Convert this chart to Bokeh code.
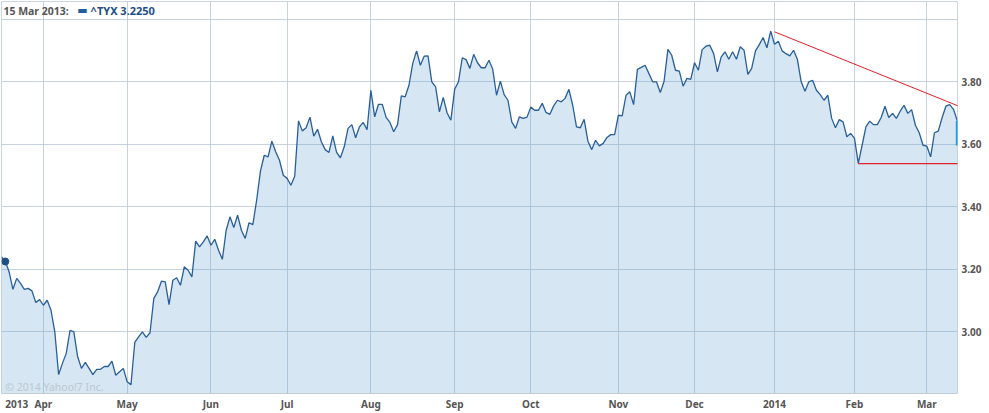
import numpy as np
from bokeh.plotting import figure
from bokeh.models import FixedTicker, Label, Range1d
from bokeh.embed import file_html
from bokeh.resources import INLINE

# ---- data -------------------------------------------------------------
holidays = ["2013-03-29", "2013-05-27", "2013-07-04", "2013-09-02", "2013-11-28",
            "2013-12-25", "2014-01-01", "2014-01-20", "2014-02-17"]
first_date = "2013-03-14"
yields = [
    3.240, 3.225, 3.192, 3.136, 3.171, 3.155, 3.136, 3.139, 3.131, 3.094,
    3.103, 3.085, 3.101, 3.069, 3.000, 2.863, 2.899, 2.931, 3.005, 3.000,
    2.920, 2.883, 2.902, 2.883, 2.863, 2.880, 2.880, 2.889, 2.889, 2.906,
    2.861, 2.872, 2.883, 2.840, 2.831, 2.966, 2.984, 3.000, 2.982, 2.997,
    3.107, 3.128, 3.162, 3.160, 3.087, 3.165, 3.173, 3.149, 3.208, 3.197,
    3.176, 3.290, 3.272, 3.288, 3.307, 3.277, 3.296, 3.261, 3.232, 3.325,
    3.368, 3.334, 3.373, 3.325, 3.299, 3.349, 3.343, 3.421, 3.514, 3.565,
    3.560, 3.610, 3.576, 3.549, 3.501, 3.491, 3.469, 3.498, 3.675, 3.643,
    3.653, 3.687, 3.626, 3.648, 3.608, 3.583, 3.574, 3.627, 3.574, 3.557,
    3.592, 3.651, 3.663, 3.621, 3.656, 3.670, 3.647, 3.773, 3.688, 3.728,
    3.728, 3.686, 3.670, 3.640, 3.663, 3.755, 3.752, 3.789, 3.859, 3.899,
    3.853, 3.882, 3.883, 3.800, 3.784, 3.704, 3.750, 3.701, 3.677, 3.776,
    3.800, 3.877, 3.871, 3.843, 3.888, 3.861, 3.845, 3.845, 3.869, 3.840,
    3.757, 3.802, 3.759, 3.741, 3.672, 3.651, 3.688, 3.683, 3.687, 3.719,
    3.709, 3.709, 3.731, 3.702, 3.696, 3.723, 3.741, 3.736, 3.747, 3.776,
    3.725, 3.656, 3.653, 3.680, 3.610, 3.583, 3.613, 3.595, 3.603, 3.622,
    3.631, 3.631, 3.693, 3.691, 3.757, 3.768, 3.727, 3.840, 3.846, 3.853,
    3.827, 3.800, 3.800, 3.766, 3.802, 3.904, 3.885, 3.837, 3.834, 3.786,
    3.811, 3.808, 3.861, 3.837, 3.903, 3.914, 3.917, 3.891, 3.832, 3.880,
    3.896, 3.872, 3.896, 3.872, 3.912, 3.901, 3.824, 3.843, 3.899, 3.919,
    3.942, 3.909, 3.962, 3.920, 3.930, 3.899, 3.890, 3.883, 3.901, 3.872,
    3.800, 3.770, 3.800, 3.805, 3.773, 3.759, 3.741, 3.757, 3.683, 3.653,
    3.679, 3.672, 3.624, 3.635, 3.619, 3.539, 3.597, 3.656, 3.674, 3.663,
    3.663, 3.686, 3.722, 3.686, 3.699, 3.683, 3.706, 3.725, 3.699, 3.711,
    3.661, 3.637, 3.597, 3.594, 3.560, 3.637, 3.642, 3.685, 3.722, 3.727,
    3.712, 3.675,
]
hover_date = "2013-03-15"
hover_label = "15 Mar 2013:"
hover_value = 3.2250
symbol = "^TYX"

month_starts = ["2013-03-20", "2013-04-01", "2013-05-01", "2013-06-01", "2013-07-01",
                "2013-08-01", "2013-09-01", "2013-10-01", "2013-11-01", "2013-12-01",
                "2014-01-01", "2014-02-01", "2014-03-01"]
month_labels = ["2013", "Apr", "May", "Jun", "Jul", "Aug", "Sep", "Oct", "Nov", "Dec",
                "2014", "Feb", "Mar"]
y_label_ticks = [3.0, 3.2, 3.4, 3.6, 3.8]
y_grid_ticks = [3.0, 3.2, 3.4, 3.6, 3.8, 4.0]

trend_dates = ["2014-01-02", "2014-03-14"]
trend_values = [3.960, 3.719]
support_dates = ["2014-02-04", "2014-03-14"]
support_values = [3.538, 3.538]
last_change = [3.596, 3.675]

# ---- trading-day positions -------------------------------------------
dates = np.busday_offset(first_date, np.arange(len(yields)), roll="forward", holidays=holidays)
x = np.busday_count(hover_date, dates, holidays=holidays)
tick_days = np.busday_offset(np.array(month_starts, dtype="datetime64[D]"), 0,
                             roll="forward", holidays=holidays)
tick_x = [int(v) for v in np.busday_count(hover_date, tick_days, holidays=holidays)]
grid_x = tick_x[1:]
trend_x = np.busday_count(hover_date, np.array(trend_dates, dtype="datetime64[D]"), holidays=holidays)
support_x = np.busday_count(hover_date, np.array(support_dates, dtype="datetime64[D]"), holidays=holidays)
hover_x = 0
last_x = int(x[-1])

# ---- figure ------------------------------------------------------------
FONT = "Noto Sans"
p = figure(frame_width=956, frame_height=392, output_backend="svg", toolbar_location=None,
           y_axis_location="right",
           x_range=Range1d(-1.0, 250.05), y_range=Range1d(2.8026, 4.057),
           min_border_left=1, min_border_top=1, min_border_right=0, min_border_bottom=0,
           background_fill_color="white", border_fill_color="white",
           outline_line_color="#cdd6df")

p.varea(x=x, y1=0, y2=yields, fill_color="#5b9bd0", fill_alpha=0.25)
p.line(x=x, y=yields, line_color="#285f98", line_width=1.3)
p.line(x=trend_x, y=trend_values, line_color="#e3202b", line_width=1)
p.line(x=support_x, y=support_values, line_color="#e3202b", line_width=1.2)
p.segment(x0=[last_x], y0=[last_change[0]], x1=[last_x], y1=[last_change[1]],
          line_color="#1b9be0", line_width=3)
p.scatter(x=[hover_x], y=[hover_value], size=7, color="#1d4f86")

# axes
p.xaxis.ticker = FixedTicker(ticks=tick_x)
p.xaxis.major_label_overrides = {t: lab for t, lab in zip(tick_x, month_labels)}
p.yaxis.ticker = FixedTicker(ticks=y_label_ticks)
p.yaxis.major_label_overrides = {t: f"{t:.2f}" for t in y_label_ticks}
for ax in (p.xaxis[0], p.yaxis[0]):
    ax.axis_line_color = None
    ax.major_tick_line_color = None
    ax.minor_tick_line_color = None
    ax.major_tick_out = 0
    ax.major_tick_in = 0
    ax.minor_tick_out = 0
    ax.minor_tick_in = 0
    ax.major_label_text_font = FONT
    ax.major_label_text_font_style = "bold"
    ax.major_label_text_font_size = "10px"
    ax.major_label_text_color = "#555555"
p.xaxis.major_label_standoff = 3
p.yaxis.major_label_standoff = 4

p.xgrid.ticker = FixedTicker(ticks=grid_x)
p.ygrid.ticker = FixedTicker(ticks=y_grid_ticks)
for g in (p.xgrid[0], p.ygrid[0]):
    g.grid_line_color = "#bccbd9"
    g.grid_line_alpha = 0.85
    g.grid_line_width = 1

# legend-like hover readout
p.add_layout(Label(x=-0.5, y=4.028, text=hover_label, text_font=FONT, text_font_size="10.5px",
                   text_font_style="bold", text_color="#555555", text_baseline="middle"))
p.add_layout(Label(x=18.9, y=4.028, text="\u25ac", text_font="DejaVu Sans", text_font_size="11px",
                   text_color="#1f5c99", text_baseline="middle"))
p.add_layout(Label(x=22.4, y=4.028, text=f"{symbol} {hover_value:.4f}", text_font=FONT,
                   text_font_size="11px", text_font_style="bold", text_color="#1f4f86",
                   text_baseline="middle"))
# watermark
p.add_layout(Label(x=0.0, y=2.824, text="\u00a9 2014 Yahoo!7 Inc.", text_font=FONT,
                   text_font_size="10.5px", text_color="#bcc7d1", text_baseline="middle"))

open("out.html", "w").write(file_html(p, INLINE))
